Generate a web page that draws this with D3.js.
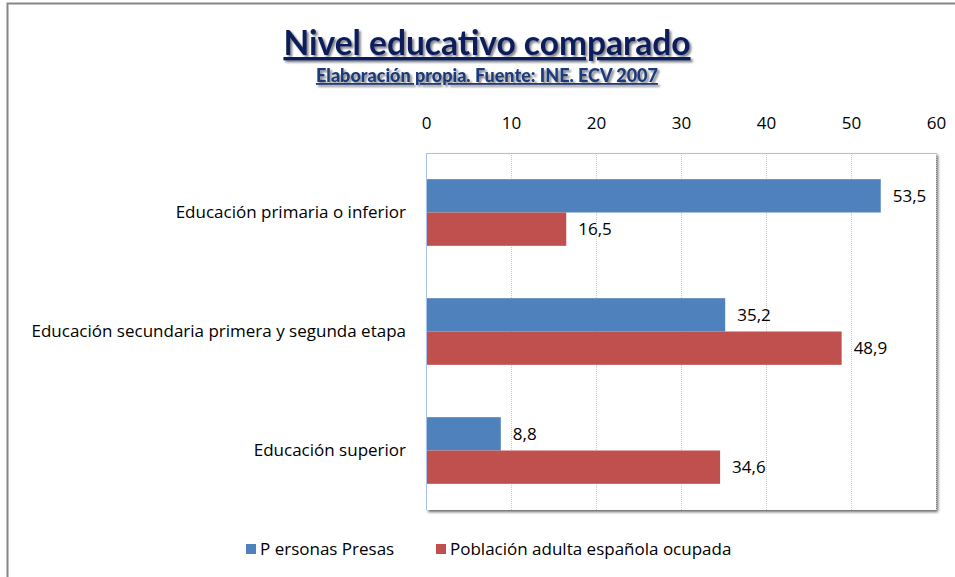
<!DOCTYPE html>
<html>
<head>
<meta charset="utf-8">
<script src="https://cdn.jsdelivr.net/npm/d3@7"></script>
<style>
  body { margin: 0; background: #fff; }
  text { font-family: "Open Sans", Lato, sans-serif; }
</style>
</head>
<body>
<div id="graph"></div>
<script>
/* data */
var categories = ["Educación primaria o inferior",
                  "Educación secundaria primera y segunda etapa",
                  "Educación superior"];
var seriesNames = ["P ersonas Presas", "Población adulta española ocupada"];
var presas = [53.5, 35.2, 8.8];
var ocupada = [16.5, 48.9, 34.6];
var tickValues = [0, 10, 20, 30, 40, 50, 60];
var colors = ["#4F81BD", "#C0504D"];

var width = 955, height = 577;
var svg = d3.select("#graph").append("svg")
            .attr("width", width)
            .attr("height", height);

var defs = svg.append("defs");
var f = defs.append("filter").attr("id", "shadow")
            .attr("x", "-5%").attr("y", "-5%").attr("width", "115%").attr("height", "120%");
f.append("feGaussianBlur").attr("in", "SourceAlpha").attr("stdDeviation", 1.5);
f.append("feOffset").attr("dx", 2).attr("dy", 2).attr("result", "b");
f.append("feComponentTransfer").append("feFuncA").attr("type", "linear").attr("slope", 0.6);
var m = f.append("feMerge");
m.append("feMergeNode");
m.append("feMergeNode").attr("in", "SourceGraphic");

var tf = defs.append("filter").attr("id", "tshadow");
tf.append("feGaussianBlur").attr("in", "SourceAlpha").attr("stdDeviation", 1.2);
tf.append("feOffset").attr("dx", 1.5).attr("dy", 1.5);
tf.append("feComponentTransfer").append("feFuncA").attr("type", "linear").attr("slope", 0.5);
var m2 = tf.append("feMerge");
m2.append("feMergeNode");
m2.append("feMergeNode").attr("in", "SourceGraphic");

// outer frame
svg.append("rect")
   .attr("x", 7.5).attr("y", 3.5)
   .attr("width", 960).attr("height", 600)
   .attr("fill", "none").attr("stroke", "#868686").attr("stroke-width", 2);

var margin = {left: 426, right: 936, top: 153, bottom: 510};

var x = d3.scaleLinear().domain([0, 60]).range([margin.left, margin.right]);
var y = d3.scaleBand().domain(categories).range([margin.top, margin.bottom])
          .paddingInner(0.44).paddingOuter(0.22);
var ySub = d3.scaleBand().domain([0, 1]).range([0, y.bandwidth()]);

// plot area with shadow
svg.append("rect")
   .attr("x", margin.left).attr("y", margin.top)
   .attr("width", margin.right - margin.left).attr("height", margin.bottom - margin.top)
   .attr("fill", "#fff")
   .attr("filter", "url(#shadow)");

// gridlines
svg.append("g")
   .selectAll("line")
   .data(tickValues.slice(1))
   .enter().append("line")
   .attr("x1", function(d) { return x(d) + 0.5; })
   .attr("x2", function(d) { return x(d) + 0.5; })
   .attr("y1", margin.top).attr("y2", margin.bottom)
   .style("stroke", "#B4CDEE")
   .style("stroke-width", 1)
   .style("stroke-dasharray", "1,1");

svg.append("line")
   .attr("x1", margin.left).attr("x2", margin.right)
   .attr("y1", margin.top + 0.5).attr("y2", margin.top + 0.5)
   .style("stroke", "#A9C3E8");

// top axis
var axis = d3.axisTop(x).tickValues(tickValues).tickSize(0).tickPadding(0);
var ag = svg.append("g")
   .attr("transform", "translate(0," + 129 + ")")
   .call(axis);
ag.select(".domain").remove();
ag.selectAll("text")
  .style("font-size", "17px")
  .style("fill", "#000")
  .style("font-family", "'Open Sans', Lato, sans-serif");

// category labels
svg.append("g")
   .selectAll("text")
   .data(categories)
   .enter().append("text")
   .attr("x", 406)
   .attr("y", function(d) { return y(d) + y.bandwidth() / 2; })
   .attr("dy", "0.35em")
   .attr("text-anchor", "end")
   .style("font-size", "17px")
   .text(function(d) { return d; });

// bars
var series = [presas, ocupada];
series.forEach(function(vals, s) {
  var g = svg.append("g");
  g.selectAll("rect")
   .data(vals)
   .enter().append("rect")
   .attr("x", x(0))
   .attr("y", function(d, i) { return y(categories[i]) + ySub(s); })
   .attr("width", function(d) { return x(d) - x(0); })
   .attr("height", ySub.bandwidth())
   .style("fill", colors[s]);
  g.selectAll("text")
   .data(vals)
   .enter().append("text")
   .attr("x", function(d) { return x(d) + 12; })
   .attr("y", function(d, i) { return y(categories[i]) + ySub(s) + ySub.bandwidth() / 2; })
   .attr("dy", "0.35em")
   .style("font-size", "17px")
   .text(function(d) { return d3.format(".1f")(d).replace(".", ","); });
});

// left axis edge
svg.append("line")
   .attr("x1", margin.left + 0.5).attr("x2", margin.left + 0.5)
   .attr("y1", margin.top).attr("y2", margin.bottom)
   .style("stroke", "#A9C3E8");

// titles
svg.append("text")
   .attr("x", 487).attr("y", 55)
   .attr("text-anchor", "middle")
   .style("font-family", "Lato, sans-serif")
   .style("font-size", "33.5px").style("font-weight", "bold")
   .style("fill", "#0F1F5A")
   .style("text-decoration", "underline")
   .attr("filter", "url(#tshadow)")
   .text("Nivel educativo comparado");
svg.append("text")
   .attr("x", 487).attr("y", 82)
   .attr("text-anchor", "middle")
   .style("font-family", "Lato, sans-serif")
   .style("font-size", "18px").style("font-weight", "900")
   .style("fill", "#1F3A7A")
   .style("text-decoration", "underline")
   .attr("filter", "url(#tshadow)")
   .text("Elaboración propia. Fuente: INE. ECV 2007");

// legend
var legendX = [246, 436];
var lg = svg.append("g");
seriesNames.forEach(function(name, i) {
  lg.append("rect")
    .attr("x", legendX[i]).attr("y", 544)
    .attr("width", 10).attr("height", 10)
    .style("fill", colors[i]);
  lg.append("text")
    .attr("x", legendX[i] + 14).attr("y", 549)
    .attr("dy", "0.35em")
    .style("font-size", "17px")
    .text(name);
});
</script>
</body>
</html>
